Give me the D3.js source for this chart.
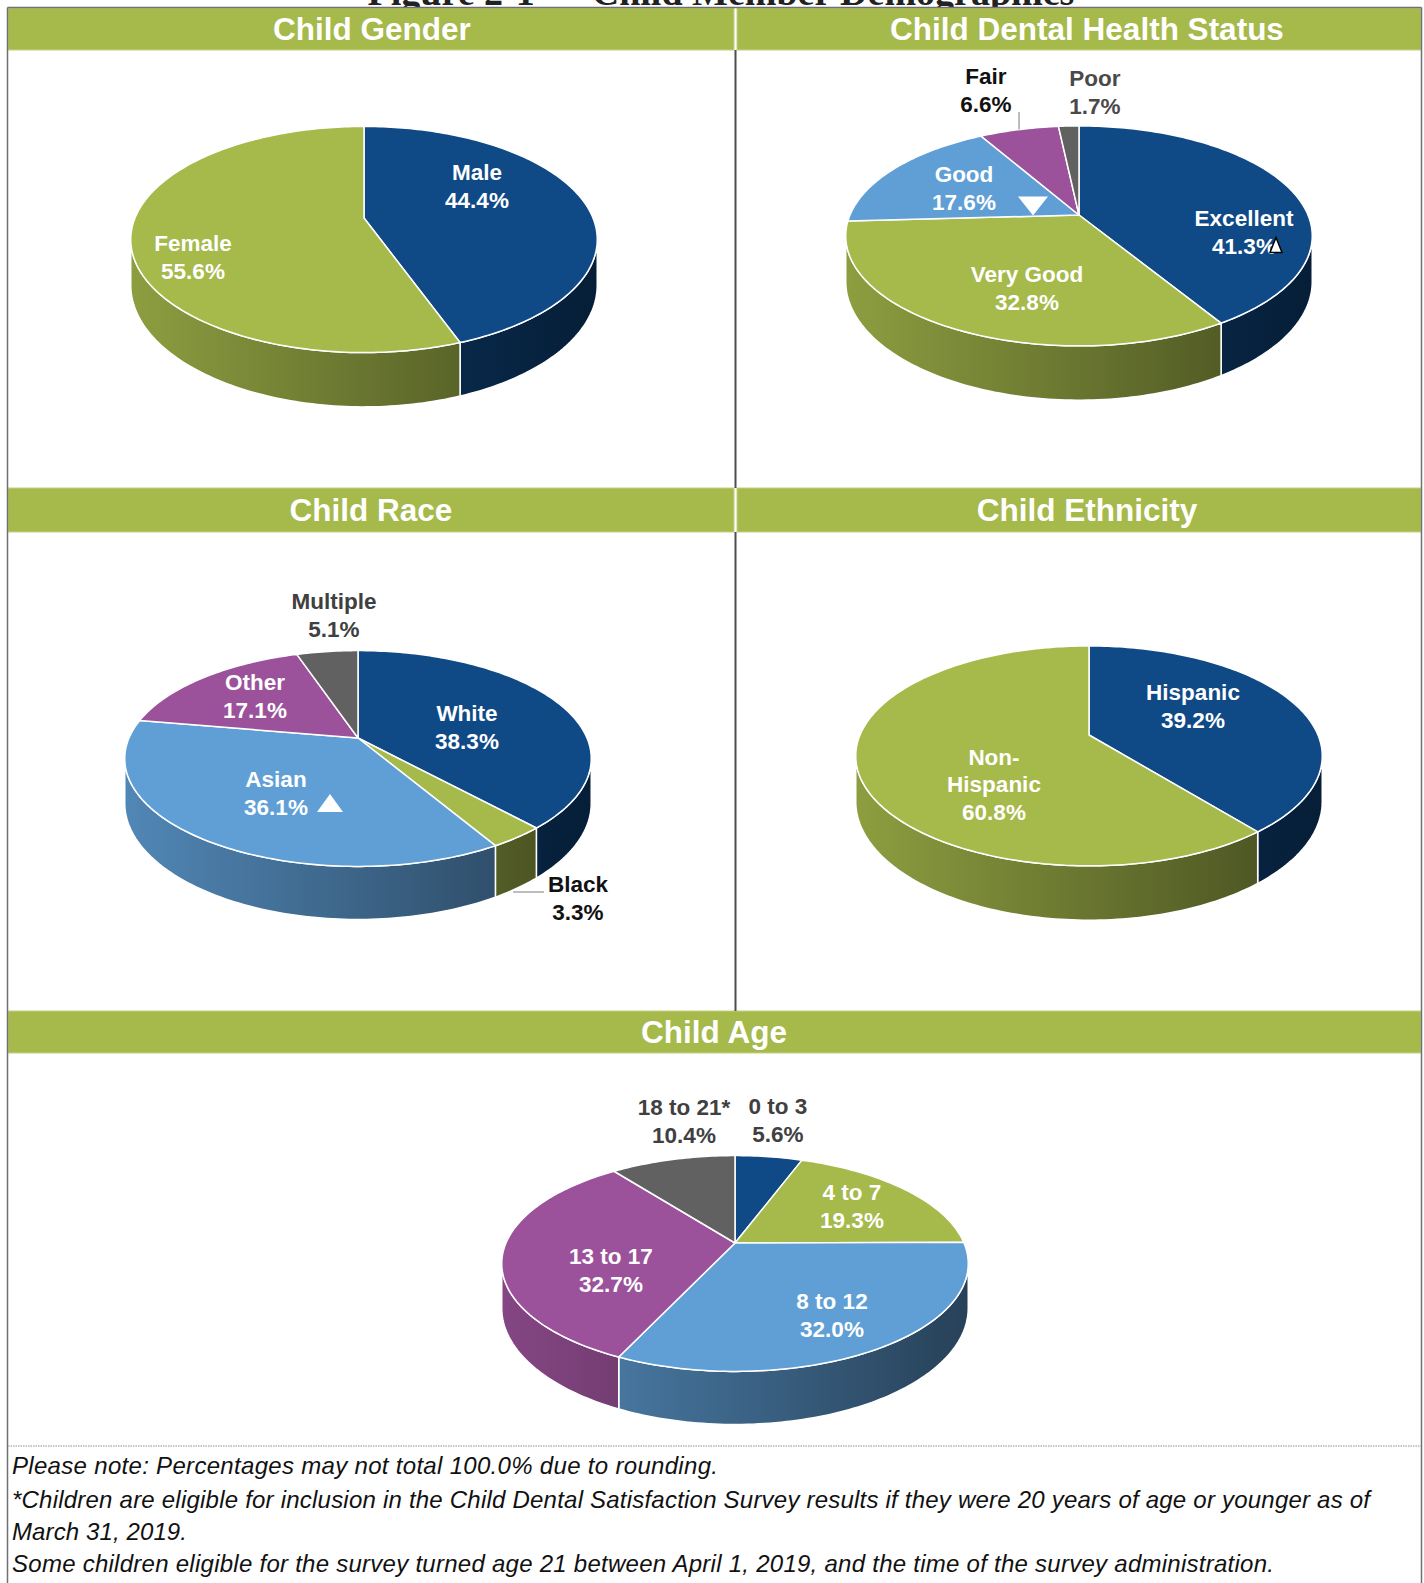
<!DOCTYPE html>
<html>
<head>
<meta charset="utf-8">
<script src="https://cdn.jsdelivr.net/npm/d3@7"></script>
<style>
  body { margin: 0; background: #fff; }
  svg { display: block; font-family: "Liberation Sans", Arial, sans-serif; }
</style>
</head>
<body>
<div id="chart"></div>
<script>
// ---- data ----
const genderLabels = ["Male", "Female"];
const genderValues = [44.4, 55.6];

const dentalLabels = ["Excellent", "Very Good", "Good", "Fair", "Poor"];
const dentalValues = [41.3, 32.8, 17.6, 6.6, 1.7];

const raceLabels = ["White", "Black", "Asian", "Other", "Multiple"];
const raceValues = [38.3, 3.3, 36.1, 17.1, 5.1];

const ethnicityLabels = ["Hispanic", "Non-Hispanic"];
const ethnicityValues = [39.2, 60.8];

const ageLabels = ["0 to 3", "4 to 7", "8 to 12", "13 to 17", "18 to 21*"];
const ageValues = [5.6, 19.3, 32.0, 32.7, 10.4];

const footnotes = [
  "Please note:  Percentages may not total 100.0% due to rounding.",
  "*Children are eligible for inclusion in the Child Dental Satisfaction Survey results if they were 20 years of age or younger as of",
  "March 31, 2019.",
  "Some children eligible for the survey turned age 21 between April 1, 2019, and the time of the survey administration."
];

// same colour order in every pie
const sliceColors = ["#0f4a87", "#a6b94b", "#5f9fd6", "#9c529b", "#616161"];
const headerGreen = "#a6b94b";

// ---- page setup ----
const W = 1424, H = 1583;
const svg = d3.select("#chart").append("svg")
    .attr("width", W)
    .attr("height", H);
const defs = svg.append("defs");

// title of the page, mostly cut off at the top
svg.append("text")
    .attr("x", 721).attr("y", 5)
    .attr("text-anchor", "middle")
    .attr("font-family", "Liberation Serif, serif")
    .attr("font-weight", "bold")
    .attr("font-size", 38)
    .attr("fill", "#222")
    .text("Figure 2-1 \u2014 Child Member Demographics");

// header bars
const headers = [
  {text: "Child Gender", x0: 8, x1: 734, y0: 8, y1: 50, tx: 372},
  {text: "Child Dental Health Status", x0: 737, x1: 1421, y0: 8, y1: 50, tx: 1087},
  {text: "Child Race", x0: 8, x1: 734, y0: 488, y1: 532, tx: 371},
  {text: "Child Ethnicity", x0: 737, x1: 1421, y0: 488, y1: 532, tx: 1087},
  {text: "Child Age", x0: 8, x1: 1421, y0: 1011, y1: 1053, tx: 714}
];

const hdr = svg.append("g").selectAll("g").data(headers).join("g");
hdr.append("rect")
    .attr("x", d => d.x0).attr("y", d => d.y0)
    .attr("width", d => d.x1 - d.x0).attr("height", d => d.y1 - d.y0)
    .attr("fill", headerGreen)
    .attr("stroke", "#c4d084").attr("stroke-width", 1);
hdr.append("text")
    .attr("x", d => d.tx).attr("y", d => (d.y0 + d.y1) / 2 + 11)
    .attr("text-anchor", "middle")
    .attr("font-weight", "bold")
    .attr("font-size", 31.5)
    .attr("fill", "#fff")
    .text(d => d.text);

// frame lines
const frame = svg.append("g").attr("stroke", "#707070").attr("stroke-width", 1.5);
frame.append("line").attr("x1", 7.5).attr("x2", 1421.5).attr("y1", 7.5).attr("y2", 7.5);
frame.append("line").attr("x1", 7.5).attr("x2", 7.5).attr("y1", 7.5).attr("y2", H);
frame.append("line").attr("x1", 1421.5).attr("x2", 1421.5).attr("y1", 7.5).attr("y2", H);
const divider = svg.append("g").attr("stroke", "#4d4d4d").attr("stroke-width", 2);
divider.append("line").attr("x1", 735.5).attr("x2", 735.5).attr("y1", 50).attr("y2", 488);
divider.append("line").attr("x1", 735.5).attr("x2", 735.5).attr("y1", 532).attr("y2", 1011);
svg.append("line")
    .attr("x1", 8).attr("x2", 1421).attr("y1", 1446).attr("y2", 1446)
    .attr("stroke", "#b5b5b5").attr("stroke-width", 1.5)
    .attr("stroke-dasharray", "1.5 1");

// ---- 3-D pie helpers ----
const P = 0.19;      // perspective
const RX = 229;
const pie = d3.pie().sort(null).value(d => d);
const lineGen = d3.line();

function project(c, a, r, z) {
  const u = r * Math.sin(a), v = -r * Math.cos(a);
  const s = 1 / (1 - P * v);
  return [c.cx + RX * u * s, c.cy + (c.ry * v + z) * s];
}
function arcPoints(c, a0, a1, z) {
  const n = Math.max(2, Math.ceil((a1 - a0) / 0.02));
  return d3.range(n + 1).map(i => project(c, a0 + (a1 - a0) * i / n, 1, z));
}
const A0 = Math.acos(-P), A1 = 2 * Math.PI - Math.acos(-P);

// ---- charts (layout positions kept apart from the data) ----
const charts = [
  {labels: genderLabels, values: genderValues, cx: 364, cy: 218, ry: 109, depth: 44,
   labelPos: [[113, -32], [-171, 39]],
   labelFill: ["#fff", "#fff"]},
  {labels: dentalLabels, values: dentalValues, cx: 1079, cy: 215, ry: 106, depth: 44,
   labelPos: [[165, 17], [-52, 73], [-115, -27], [-93, -125], [16, -123]],
   labelFill: ["#fff", "#fff", "#fff", "#111", "#4a4a4a"],
   markers: [{slice: 2, dir: "down", dx: 69, dy: 18, w: 30, h: 19, stroke: "none"},
             {slice: 0, dir: "up", dx: 32, dy: 13, w: 12, h: 15, stroke: "#000"}],
   leaders: [{slice: 3, z: 0, to: [33, 22]}]},
  {labels: raceLabels, values: raceValues, cx: 358, cy: 738, ry: 104, depth: 43,
   labelPos: [[109, -11], [220, 160], [-82, 55], [-103, -42], [-24, -123]],
   labelFill: ["#fff", "#111", "#fff", "#fff", "#404040"],
   markers: [{slice: 2, dir: "up", dx: 54, dy: 10, w: 26, h: 18, stroke: "none"}],
   leaders: [{slice: 1, z: 38, to: [-34, -6]}]},
  {labels: ethnicityLabels, values: ethnicityValues, cx: 1089, cy: 735, ry: 106, depth: 44,
   labelPos: [[104, -29], [-95, 49]],
   labelFill: ["#fff", "#fff"],
   wrap: {"Non-Hispanic": ["Non-", "Hispanic"]}},
  {labels: ageLabels, values: ageValues, cx: 735, cy: 1243, ry: 104, depth: 43,
   labelPos: [[43, -123], [117, -37], [97, 72], [-124, 27], [-51, -122]],
   labelFill: ["#404040", "#fff", "#fff", "#fff", "#404040"]}
];

const LINE_H = 27.5;

charts.forEach((c, ci) => {
  const arcs = pie(c.values);
  const g = svg.append("g");

  // horizontal shading for the side walls
  sliceColors.forEach((col, i) => {
    const grad = defs.append("linearGradient")
        .attr("id", `side-${ci}-${i}`)
        .attr("gradientUnits", "userSpaceOnUse")
        .attr("x1", c.cx - RX * 1.02).attr("x2", c.cx + RX * 1.02)
        .attr("y1", 0).attr("y2", 0);
    grad.append("stop").attr("offset", 0).attr("stop-color", d3.color(col).darker(0.45));
    grad.append("stop").attr("offset", 1).attr("stop-color", d3.color(col).darker(2.5));
  });

  // side walls (only the part facing the viewer)
  g.selectAll("path.side")
    .data(arcs.filter(d => Math.min(d.endAngle, A1) > Math.max(d.startAngle, A0)))
    .join("path")
      .attr("class", "side")
      .attr("d", d => {
        const a0 = Math.max(d.startAngle, A0), a1 = Math.min(d.endAngle, A1);
        const top = arcPoints(c, a0, a1, 0);
        const bot = arcPoints(c, a0, a1, c.depth).reverse();
        return lineGen(top.concat(bot)) + "Z";
      })
      .attr("fill", d => `url(#side-${ci}-${d.index})`)
      .attr("stroke", "#fff").attr("stroke-width", 1.5)
      .attr("stroke-linejoin", "round");

  // top faces
  g.selectAll("path.top")
    .data(arcs)
    .join("path")
      .attr("class", "top")
      .attr("d", d => lineGen([[c.cx, c.cy]].concat(arcPoints(c, d.startAngle, d.endAngle, 0))) + "Z")
      .attr("fill", d => sliceColors[d.index])
      .attr("stroke", "#fff").attr("stroke-width", 1.5)
      .attr("stroke-linejoin", "round");

  // leader lines
  (c.leaders || []).forEach(l => {
    const a = arcs[l.slice];
    const from = project(c, (a.startAngle + a.endAngle) / 2, 1, l.z);
    const lp = c.labelPos[l.slice];
    const to = [c.cx + lp[0] + l.to[0], c.cy + lp[1] + l.to[1]];
    const start = l.z ? [from[0] - 4, to[1]] : from;
    g.append("path")
      .attr("d", lineGen([start, to]))
      .attr("fill", "none").attr("stroke", "#9a9a9a").attr("stroke-width", 1.3);
  });

  // labels
  const lab = g.selectAll("text.lab")
    .data(arcs)
    .join("text")
      .attr("class", "lab")
      .attr("text-anchor", "middle")
      .attr("font-weight", "bold")
      .attr("font-size", 22.5)
      .attr("fill", d => c.labelFill[d.index]);
  lab.each(function(d) {
    const name = c.labels[d.index];
    const lines = ((c.wrap && c.wrap[name]) || [name]).concat([d.value.toFixed(1) + "%"]);
    const [dx, dy] = c.labelPos[d.index];
    d3.select(this).selectAll("tspan")
      .data(lines)
      .join("tspan")
        .attr("x", c.cx + dx)
        .attr("y", (t, i) => c.cy + dy + (i - (lines.length - 1) / 2) * LINE_H + 8)
        .text(t => t);
  });

  // significance triangles
  (c.markers || []).forEach(m => {
    const lp = c.labelPos[m.slice];
    const x = c.cx + lp[0] + m.dx, y = c.cy + lp[1] + m.dy;
    const pts = m.dir === "up"
      ? [[x - m.w / 2, y + m.h / 2], [x + m.w / 2, y + m.h / 2], [x, y - m.h / 2]]
      : [[x - m.w / 2, y - m.h / 2], [x + m.w / 2, y - m.h / 2], [x, y + m.h / 2]];
    g.append("path")
      .attr("d", lineGen(pts) + "Z")
      .attr("fill", "#fff")
      .attr("stroke", m.stroke).attr("stroke-width", 1.5);
  });
});

// ---- footnotes ----
const footY = [1474, 1508, 1540, 1572];
const footW = [706, 1358, 175, 1262];
svg.append("g").selectAll("text")
  .data(footnotes)
  .join("text")
    .attr("x", 12)
    .attr("y", (d, i) => footY[i])
    .attr("font-style", "italic")
    .attr("font-size", 24)
    .attr("textLength", (d, i) => footW[i])
    .attr("lengthAdjust", "spacing")
    .attr("fill", "#111")
    .text(d => d);
</script>
</body>
</html>
